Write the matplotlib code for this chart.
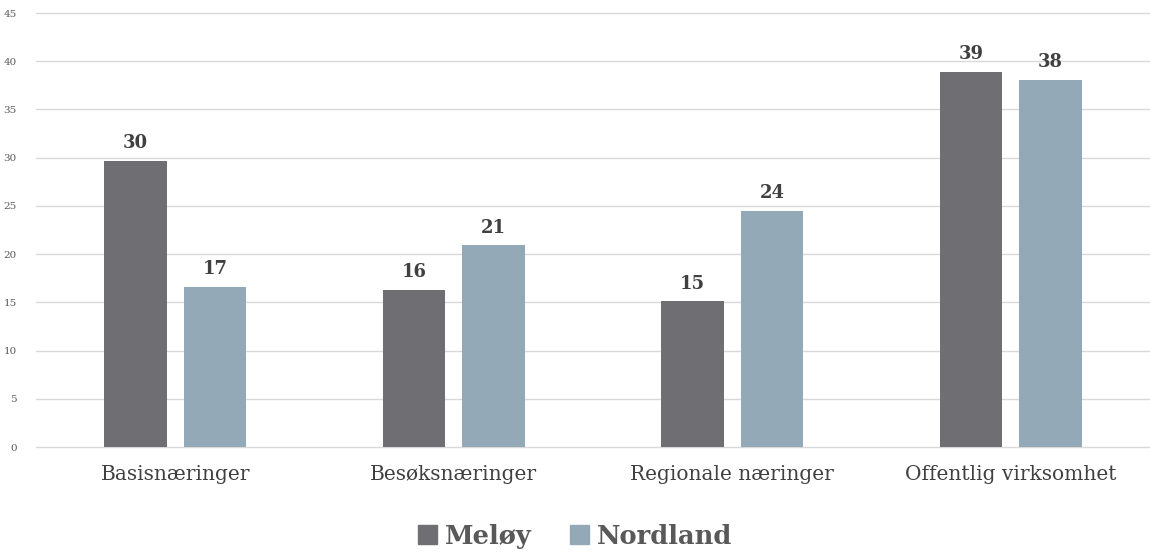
import matplotlib
matplotlib.use("Agg")
import matplotlib.pyplot as plt
import numpy as np
from matplotlib.patches import Patch

categories = ["Basisnæringer", "Besøksnæringer", "Regionale næringer", "Offentlig virksomhet"]
series_names = ["Meløy", "Nordland"]
meloy = [29.7, 16.3, 15.1, 38.9]
nordland = [16.6, 20.9, 24.5, 38.1]
yticks = [0, 5, 10, 15, 20, 25, 30, 35, 40, 45]

colors = ["#6f6e73", "#94a9b8"]
plt.rcParams['font.family'] = ['DejaVu Serif']

fig = plt.figure(figsize=(11.5, 5.54), dpi=100)
ax = fig.add_axes([0.0313, 0.193, 0.9687, 0.7835])

x = np.arange(len(categories))
w = 0.225
off = 0.143
for vals, dx, c in [(meloy, -off, colors[0]), (nordland, off, colors[1])]:
    bars = ax.bar(x + dx, vals, width=w, color=c, zorder=3)
    for b, v in zip(bars, vals):
        ax.text(b.get_x() + b.get_width() / 2, v + 0.9, f"{round(v):d}",
                ha="center", va="bottom", fontsize=13, fontweight="bold", color="#404040")

ax.set_xlim(-0.5, len(categories) - 0.5)
ax.set_ylim(0, 45)
ax.set_yticks(yticks)
ax.set_yticklabels([str(t) for t in yticks], fontsize=7.5, color="#595959")
ax.set_xticks(x)
ax.set_xticklabels(categories, fontsize=14.5, color="#404040")
ax.tick_params(axis="both", length=0)
ax.tick_params(axis="x", pad=13)
ax.tick_params(axis="y", pad=14)
ax.grid(axis="y", color="#d9d9d9", linewidth=1, zorder=0)
for gl in ax.get_ygridlines():
    gl.set_clip_on(False)
for s in ax.spines.values():
    s.set_visible(False)

handles = [Patch(color=c) for c in colors]
leg = fig.legend(handles, series_names, loc="center", bbox_to_anchor=(0.5, 0.032), ncol=2,
                 frameon=False, handlelength=0.75, handleheight=0.75, handletextpad=0.3,
                 columnspacing=1.5, prop={"size": 18.5, "weight": "bold"})
for t in leg.get_texts():
    t.set_color("#595959")

fig.savefig("out.png", dpi=100)
